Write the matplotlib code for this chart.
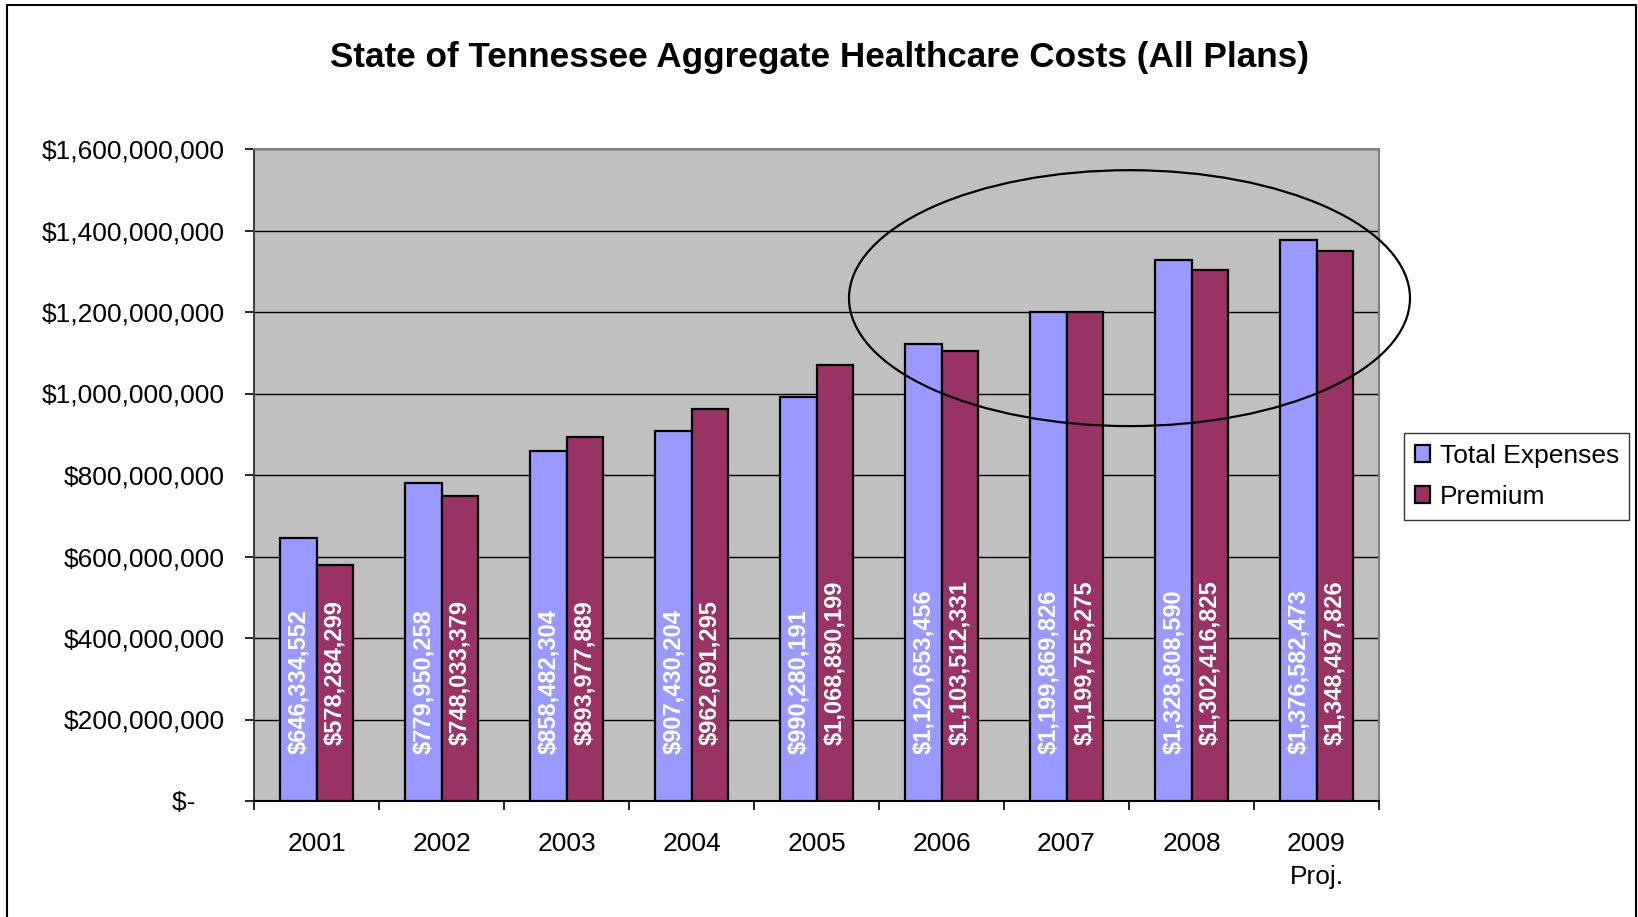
import matplotlib
matplotlib.use("Agg")
import matplotlib.pyplot as plt
import numpy as np
from matplotlib.patches import Ellipse, Rectangle
from matplotlib.ticker import FuncFormatter, FixedLocator

plt.rcParams['font.family'] = ['Liberation Sans', 'DejaVu Sans']

years = ["2001", "2002", "2003", "2004", "2005", "2006", "2007", "2008", "2009\nProj."]
total_expenses = [646334552, 779950258, 858482304, 907430204, 990280191,
                  1120653456, 1199869826, 1328808590, 1376582473]
premium = [578284299, 748033379, 893977889, 962691295, 1068890199,
           1103512331, 1199755275, 1302416825, 1348497826]
series_names = ["Total Expenses", "Premium"]
yticks = [0, 200e6, 400e6, 600e6, 800e6, 1000e6, 1200e6, 1400e6, 1600e6]

W, H = 1638, 917
fig = plt.figure(figsize=(W / 100, H / 100), dpi=100)
ax = fig.add_axes([254 / W, 1 - 801 / H, (1379 - 254) / W, (801 - 149) / H])
ax.set_facecolor('#C0C0C0')

x = np.arange(len(years))
bw = 0.29
blue = '#9999FF'
maroon = '#993366'
b1 = ax.bar(x - bw / 2, total_expenses, bw, color=blue, edgecolor='black', linewidth=1.6,
            label=series_names[0], zorder=3)
b2 = ax.bar(x + bw / 2, premium, bw, color=maroon, edgecolor='black', linewidth=1.6,
            label=series_names[1], zorder=3)

def money(v):
    return "${:,.0f}".format(v)

for xi, v in zip(x, total_expenses):
    ax.annotate(money(v), (xi - bw / 2, 0), xytext=(0, 34), textcoords='offset points',
                rotation=90, ha='center', va='bottom', color='white', fontsize=17,
                fontweight='bold', zorder=5)
for xi, v in zip(x, premium):
    ax.annotate(money(v), (xi + bw / 2, 0), xytext=(0, 40), textcoords='offset points',
                rotation=90, ha='center', va='bottom', color='white', fontsize=17,
                fontweight='bold', zorder=5)

ax.set_xlim(-0.5, len(years) - 0.5)
ax.set_ylim(0, 1600e6)
ax.set_yticks(yticks)

def yfmt(v, pos):
    if v == 0:
        return "$-    "
    return "${:,.0f}".format(v)

ax.yaxis.set_major_formatter(FuncFormatter(yfmt))
ax.yaxis.grid(True, color='black', linewidth=1.0, zorder=1)
ax.set_axisbelow(True)

ax.xaxis.set_major_locator(FixedLocator(np.arange(-0.5, len(years), 1.0)))
ax.xaxis.set_major_formatter(FuncFormatter(lambda v, p: ""))
ax.xaxis.set_minor_locator(FixedLocator(x))
ax.set_xticklabels(years, minor=True)
ax.tick_params(axis='x', which='major', length=6.5, width=1.2, direction='out', color='black')
ax.tick_params(axis='x', which='minor', length=0, pad=22, labelsize=19)
ax.tick_params(axis='y', which='major', length=6.5, width=1.2, direction='out', pad=14.5,
               labelsize=19)
for lbl in ax.get_xticklabels(minor=True):
    lbl.set_linespacing(1.5)

for s in ['top', 'right']:
    ax.spines[s].set_color('#808080')
    ax.spines[s].set_linewidth(1.5)
ax.spines['left'].set_color('#404040')
ax.spines['left'].set_linewidth(1.5)
ax.spines['bottom'].set_color('black')
ax.spines['bottom'].set_linewidth(1.5)

# highlight ellipse around 2006-2009
ell = Ellipse((6.504, 1.234e9), 4.488, 6.28e8, fill=False, edgecolor='black',
              linewidth=1.6, clip_on=False, zorder=6)
ax.add_patch(ell)

fig.text(0.5, 1 - 58 / H, "State of Tennessee Aggregate Healthcare Costs (All Plans)",
         ha='center', va='center', fontsize=25.3, fontweight='bold')

leg = fig.legend(handles=[b1, b2], labels=series_names, loc='upper left',
                 bbox_to_anchor=(1404 / W, 1 - 433 / H), fontsize=19, frameon=True,
                 fancybox=False, edgecolor='black', handlelength=0.6, handleheight=0.6,
                 handletextpad=0.35, borderpad=0.4, labelspacing=0.66, borderaxespad=0)
leg.get_frame().set_linewidth(1.0)

fig.add_artist(Rectangle((7 / W, -0.01), (1636 - 7) / W, 1 - 5 / H + 0.01,
                         transform=fig.transFigure, fill=False, edgecolor='black',
                         linewidth=1.5))

fig.savefig("out.png", dpi=100)
